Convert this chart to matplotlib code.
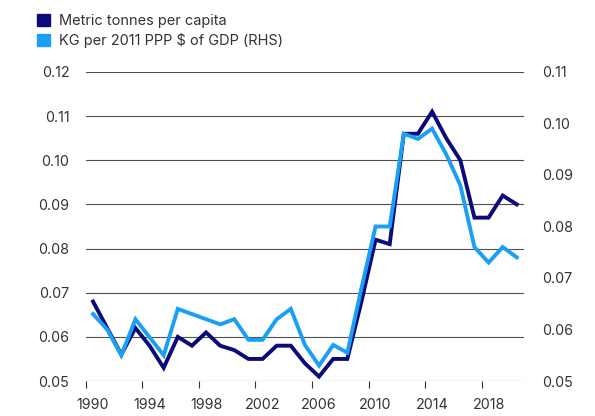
import matplotlib.pyplot as plt
from matplotlib.patches import Patch
from matplotlib.ticker import FormatStrFormatter

plt.rcParams['font.family'] = ['Inter', 'DejaVu Sans']

years = list(range(1990, 2021))

# Metric tonnes per capita (left axis)
tonnes_per_capita = [0.068, 0.062, 0.056, 0.062, 0.058, 0.053, 0.060, 0.058, 0.061, 0.058,
                     0.057, 0.055, 0.055, 0.058, 0.058, 0.054, 0.051, 0.055, 0.055, 0.068,
                     0.082, 0.081, 0.106, 0.106, 0.111, 0.105, 0.100, 0.087, 0.087, 0.092,
                     0.090]

# KG per 2011 PPP $ of GDP (right axis)
kg_per_gdp = [0.063, 0.060, 0.055, 0.062, 0.0585, 0.055, 0.064, 0.063, 0.062, 0.061,
              0.062, 0.058, 0.058, 0.062, 0.064, 0.057, 0.053, 0.057, 0.0555, 0.068,
              0.080, 0.080, 0.098, 0.097, 0.099, 0.094, 0.088, 0.076, 0.073, 0.076,
              0.074]

label_years = [1990, 1994, 1998, 2002, 2006, 2010, 2014, 2018]

dark = '#0b0a78'
light = '#1a9ff5'
text_col = '#333333'

fig = plt.figure(figsize=(5.95, 4.16), dpi=100)
ax = fig.add_axes([0.1445, 0.0841, 0.736, 0.743])
ax2 = ax.twinx()

ax.plot(years, tonnes_per_capita, color=dark, lw=2.8, solid_joinstyle='miter')
ax2.plot(years, kg_per_gdp, color=light, lw=2.8, solid_joinstyle='miter')

ax.set_xlim(1989.5, 2020.5)
ax.set_ylim(0.05, 0.12)
ax2.set_ylim(0.05, 0.11)
ax.set_yticks([0.05 + 0.01 * i for i in range(8)])
ax2.set_yticks([0.05 + 0.01 * i for i in range(7)])
ax.yaxis.set_major_formatter(FormatStrFormatter('%.2f'))
ax2.yaxis.set_major_formatter(FormatStrFormatter('%.2f'))

ax.grid(axis='y', color='#505050', lw=0.8)
ax.set_axisbelow(True)

# year labels centred on points, tick marks on category boundaries
ax.set_xticks(label_years)
ax.set_xticks([y - 0.5 for y in label_years], minor=True)
ax.tick_params(axis='x', which='major', length=0, pad=12, labelsize=10.3, labelcolor=text_col)
ax.tick_params(axis='x', which='minor', length=5, width=0.8, color='#333333', direction='out')
ax.tick_params(axis='y', length=0, pad=12, labelsize=10.3, labelcolor=text_col)
ax2.tick_params(axis='y', length=0, pad=13, labelsize=10.3, labelcolor=text_col)

for a in (ax, ax2):
    for s in ['top', 'left', 'right', 'bottom']:
        a.spines[s].set_visible(False)

handles = [Patch(color=dark, label='Metric tonnes per capita'),
           Patch(color=light, label='KG per 2011 PPP $ of GDP (RHS)')]
fig.legend(handles=handles, loc='upper left', bbox_to_anchor=(0.045, 0.99),
           frameon=False, fontsize=10.5, handlelength=0.9, handleheight=0.9,
           handletextpad=0.6, labelspacing=0.3, labelcolor=text_col, borderaxespad=0.3)

fig.savefig('out.png', dpi=100)
